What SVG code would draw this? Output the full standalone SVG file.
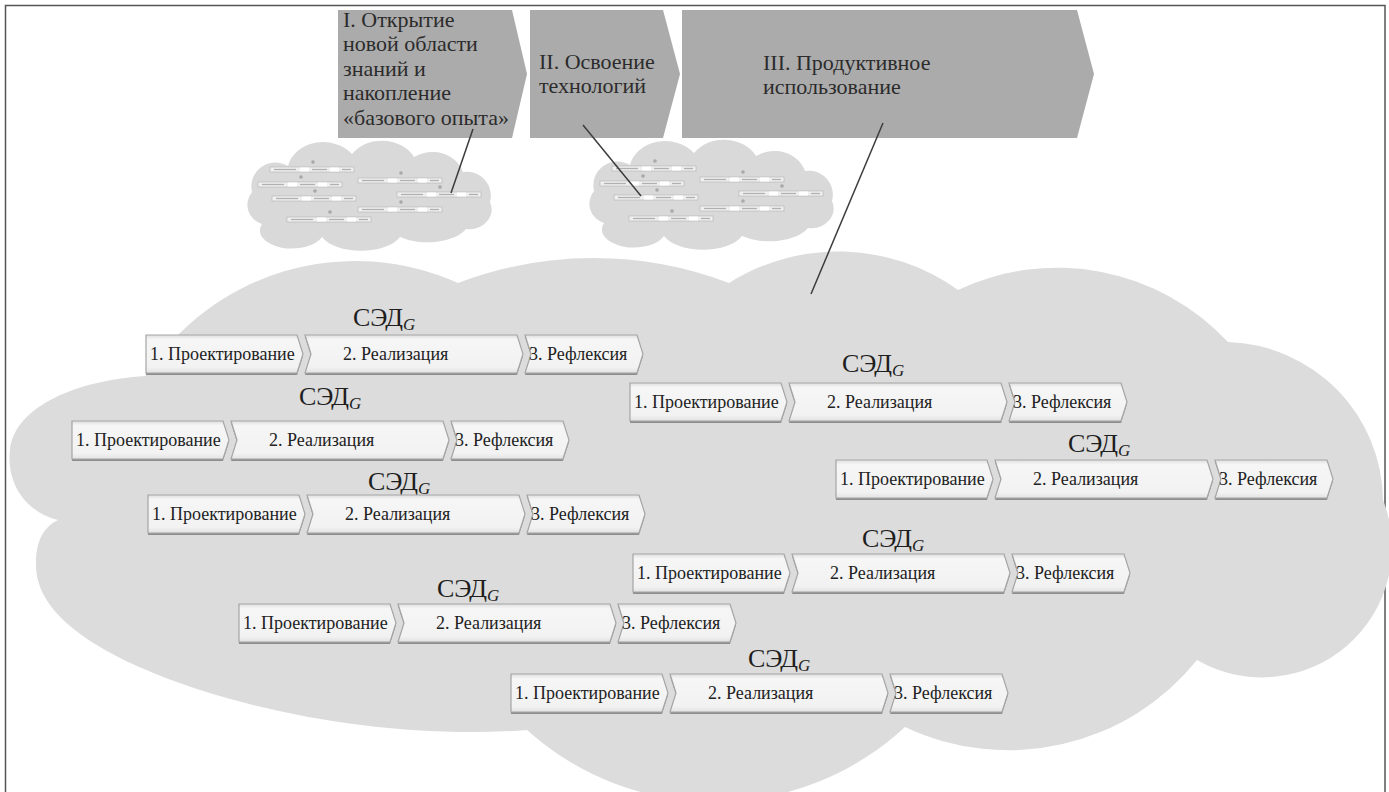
<svg xmlns="http://www.w3.org/2000/svg" xmlns:xlink="http://www.w3.org/1999/xlink" width="1389" height="792" viewBox="0 0 1389 792" font-family="'Liberation Serif', 'Times New Roman', Times, 'DejaVu Serif', 'Noto Serif', Tinos, serif">
<style>
.frame{fill:#ffffff;stroke:#555555;stroke-width:1.5}
.cloud{fill:#dcdcdc}
.scloud{fill:#d9d9d9}
.stage{fill:#ababab}
text{font-family:'Liberation Serif','Times New Roman',Times,'DejaVu Serif','Noto Serif',serif}
.stxt{font-size:22px;fill:#2b2b2b}
.btxt{font-size:18px;fill:#222222}
.sed{font-size:26px;fill:#1e1e1e}
.g{font-style:italic;font-size:17px}
.box{fill:url(#boxGrad);stroke:#a5a5a5;stroke-width:1.2}
.shadow{fill:#8e8e8e}
.dark .box{stroke:#7a7a7a;stroke-width:1.6}
.conn{stroke:#3c3c3c;stroke-width:1.5;fill:none}
.mrow{fill:#efefef;stroke:#b3b3b3;stroke-width:0.6}
.mwhite{fill:#ffffff}
.mtxt{stroke:#b0b0b0;stroke-width:1.3}
.mdot{fill:#a8a8a8}
</style>
<defs>
<linearGradient id="boxGrad" x1="0" y1="0" x2="0" y2="1">
<stop offset="0" stop-color="#dedede"/>
<stop offset="0.12" stop-color="#f6f6f6"/>
<stop offset="0.85" stop-color="#f2f2f2"/>
<stop offset="1" stop-color="#e2e2e2"/>
</linearGradient>
<path id="b1" d="M0,0 H151 L157,19 L151,38 H0 Z"/>
<path id="b2" d="M159,0 H371 L377,19 L371,38 H159 L165,19 Z"/>
<path id="b3" d="M379,0 H491 L497,19 L491,38 H379 L385,19 Z"/>
<g id="chain">
<use xlink:href="#b1" class="shadow" y="2"/>
<use xlink:href="#b2" class="shadow" y="2"/>
<use xlink:href="#b3" class="shadow" y="2"/>
<use xlink:href="#b1" class="box"/>
<use xlink:href="#b2" class="box"/>
<use xlink:href="#b3" class="box"/>
</g>
<g id="mini">
<rect class="mrow" x="0" y="0" width="84" height="5"/>
<rect class="mwhite" x="30" y="0.5" width="9" height="4"/>
<rect class="mwhite" x="60" y="0.5" width="9" height="4"/>
<line class="mtxt" x1="4" y1="2.5" x2="26" y2="2.5"/>
<line class="mtxt" x1="42" y1="2.5" x2="57" y2="2.5"/>
<line class="mtxt" x1="72" y1="2.5" x2="81" y2="2.5"/>
<circle class="mdot" cx="43" cy="-5" r="1.8"/>
</g>
<g id="smallcloud">
<path class="scloud" d="M262,224 A20,20 0 0 1 252,192 A24,24 0 0 1 288,166 A36,30 0 0 1 352,154 A36,30 0 0 1 414,157 A32,28 0 0 1 463,172 A24,24 0 0 1 490,202 A22,20 0 0 1 466,229 A42,22 0 0 1 400,237 A42,22 0 0 1 322,237 A32,18 0 0 1 262,224 Z"/>
<use xlink:href="#mini" x="270" y="167"/>
<use xlink:href="#mini" x="258" y="182"/>
<use xlink:href="#mini" x="272" y="196"/>
<use xlink:href="#mini" x="287" y="217"/>
<use xlink:href="#mini" x="358" y="178"/>
<use xlink:href="#mini" x="397" y="192"/>
<use xlink:href="#mini" x="358" y="207"/>
</g>
</defs>

<rect class="frame" x="5.5" y="5.5" width="1379.5" height="792"/>

<g id="main-cloud">
<path class="cloud" d="M145,376 A250,250 0 0 1 458,283 A380,380 0 0 1 729,283 A205,205 0 0 1 958,290 A233,233 0 0 1 1228,342 A160,160 0 0 1 1383,500 A130,130 0 0 1 1197,660 A242,242 0 0 1 905,727 A280,280 0 0 1 527,730 C420,738 300,722 200,690 C115,662 38,622 36,567 C35,540 45,526 58,520 C25,512 6,482 10,450 C15,405 80,380 145,376 Z"/>
</g>

<g id="small-cloud-1"><use xlink:href="#smallcloud"/></g>
<g id="small-cloud-2"><use xlink:href="#smallcloud" x="342" y="-1"/></g>

<g id="stage-1">
<path class="stage" d="M338,10 H512 L527,74 L512,138 H338 Z"/>
<text class="stxt" x="343" y="27">I. Открытие</text>
<text class="stxt" x="343" y="51">новой области</text>
<text class="stxt" x="343" y="76">знаний и</text>
<text class="stxt" x="343" y="100">накопление</text>
<text class="stxt" x="343" y="125">«базового опыта»</text>
</g>
<g id="stage-2">
<path class="stage" d="M530,10 H663 L680,74 L663,138 H530 Z"/>
<text class="stxt" x="539" y="69">II. Освоение</text>
<text class="stxt" x="539" y="93">технологий</text>
</g>
<g id="stage-3">
<path class="stage" d="M682,10 H1077 L1094,74 L1077,138 H682 Z"/>
<text class="stxt" x="763" y="70">III. Продуктивное</text>
<text class="stxt" x="763" y="94">использование</text>
</g>

<g id="connectors">
<line class="conn" x1="473" y1="129" x2="451" y2="193"/>
<line class="conn" x1="583" y1="125" x2="641" y2="196"/>
<line class="conn" x1="883" y1="123" x2="811" y2="294"/>
</g>

<g id="sed-a" transform="translate(146,335)"><text class="sed" x="207" y="-9">СЭД<tspan class="g" dy="4">G</tspan></text><use xlink:href="#chain"/><text class="btxt" x="4" y="25">1. Проектирование</text><text class="btxt" x="197" y="25">2. Реализация</text><text class="btxt" x="383" y="25">3. Рефлексия</text></g>
<g id="sed-b" transform="translate(72,421)"><text class="sed" x="227" y="-16">СЭД<tspan class="g" dy="4">G</tspan></text><use xlink:href="#chain"/><text class="btxt" x="4" y="25">1. Проектирование</text><text class="btxt" x="197" y="25">2. Реализация</text><text class="btxt" x="383" y="25">3. Рефлексия</text></g>
<g id="sed-c" transform="translate(148,495)"><text class="sed" x="220" y="-5">СЭД<tspan class="g" dy="4">G</tspan></text><use xlink:href="#chain"/><text class="btxt" x="4" y="25">1. Проектирование</text><text class="btxt" x="197" y="25">2. Реализация</text><text class="btxt" x="383" y="25">3. Рефлексия</text></g>
<g id="sed-d" transform="translate(239,604)"><text class="sed" x="198" y="-7">СЭД<tspan class="g" dy="4">G</tspan></text><use xlink:href="#chain"/><text class="btxt" x="4" y="25">1. Проектирование</text><text class="btxt" x="197" y="25">2. Реализация</text><text class="btxt" x="383" y="25">3. Рефлексия</text></g>
<g id="sed-e" transform="translate(511,674)"><text class="sed" x="237" y="-7">СЭД<tspan class="g" dy="4">G</tspan></text><use xlink:href="#chain"/><text class="btxt" x="4" y="25">1. Проектирование</text><text class="btxt" x="197" y="25">2. Реализация</text><text class="btxt" x="383" y="25">3. Рефлексия</text></g>
<g id="sed-f" transform="translate(630,383)"><text class="sed" x="212" y="-11">СЭД<tspan class="g" dy="4">G</tspan></text><use xlink:href="#chain"/><text class="btxt" x="4" y="25">1. Проектирование</text><text class="btxt" x="197" y="25">2. Реализация</text><text class="btxt" x="383" y="25">3. Рефлексия</text></g>
<g id="sed-g" class="dark" transform="translate(836,460)"><text class="sed" x="232" y="-8">СЭД<tspan class="g" dy="4">G</tspan></text><use xlink:href="#chain"/><text class="btxt" x="4" y="25">1. Проектирование</text><text class="btxt" x="197" y="25">2. Реализация</text><text class="btxt" x="383" y="25">3. Рефлексия</text></g>
<g id="sed-h" transform="translate(633,554)"><text class="sed" x="229" y="-7">СЭД<tspan class="g" dy="4">G</tspan></text><use xlink:href="#chain"/><text class="btxt" x="4" y="25">1. Проектирование</text><text class="btxt" x="197" y="25">2. Реализация</text><text class="btxt" x="383" y="25">3. Рефлексия</text></g>
</svg>
